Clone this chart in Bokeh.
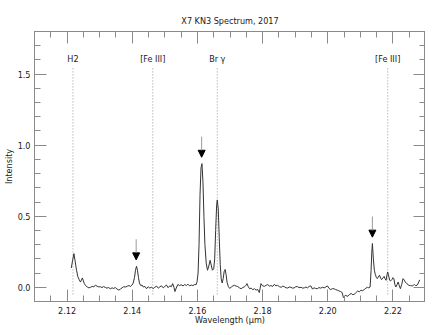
from bokeh.plotting import figure
from bokeh.layouts import column
from bokeh.models import (ColumnDataSource, LinearAxis, SingleIntervalTicker,
                          PrintfTickFormatter, CustomJSTickFormatter, Arrow,
                          NormalHead, Range1d, Spacer)
from bokeh.core.properties import value
from bokeh.embed import file_html
from bokeh.resources import INLINE

# ---- data ----
wavelength = [
    2.1213, 2.1217, 2.1221, 2.1225, 2.1229, 2.1233, 2.1237, 2.1241, 2.1244, 2.1247,
    2.1250, 2.1253, 2.1257, 2.1262, 2.1267, 2.1272, 2.1277, 2.1282, 2.1287, 2.1292,
    2.1297, 2.1302, 2.1307, 2.1312, 2.1317, 2.1322, 2.1327, 2.1333, 2.1338, 2.1343,
    2.1348, 2.1353, 2.1359, 2.1364, 2.1369, 2.1374, 2.1380, 2.1385, 2.1390, 2.1395,
    2.1399, 2.1403, 2.1407, 2.1410, 2.1413, 2.1416, 2.1419, 2.1422, 2.1426, 2.1430,
    2.1434, 2.1439, 2.1444, 2.1449, 2.1454, 2.1459, 2.1464, 2.1469, 2.1475, 2.1480,
    2.1485, 2.1490, 2.1495, 2.1500, 2.1505, 2.1510, 2.1515, 2.1520, 2.1524, 2.1528,
    2.1531, 2.1535, 2.1540, 2.1545, 2.1550, 2.1556, 2.1561, 2.1566, 2.1571, 2.1576,
    2.1581, 2.1586, 2.1592, 2.1596, 2.1599, 2.1602, 2.1605, 2.1608, 2.1611, 2.1614,
    2.1617, 2.1620, 2.1623, 2.1627, 2.1631, 2.1635, 2.1639, 2.1643, 2.1646, 2.1650,
    2.1653, 2.1656, 2.1659, 2.1661, 2.1664, 2.1667, 2.1670, 2.1673, 2.1676, 2.1679,
    2.1682, 2.1685, 2.1688, 2.1691, 2.1695, 2.1699, 2.1704, 2.1709, 2.1714, 2.1719,
    2.1724, 2.1729, 2.1734, 2.1739, 2.1745, 2.1749, 2.1752, 2.1756, 2.1760, 2.1765,
    2.1770, 2.1775, 2.1780, 2.1785, 2.1790, 2.1795, 2.1800, 2.1806, 2.1811, 2.1816,
    2.1821, 2.1826, 2.1831, 2.1836, 2.1841, 2.1846, 2.1852, 2.1857, 2.1862, 2.1867,
    2.1872, 2.1877, 2.1882, 2.1887, 2.1892, 2.1897, 2.1902, 2.1907, 2.1912, 2.1918,
    2.1923, 2.1928, 2.1933, 2.1938, 2.1943, 2.1948, 2.1953, 2.1958, 2.1963, 2.1968,
    2.1973, 2.1978, 2.1984, 2.1989, 2.1994, 2.1999, 2.2004, 2.2009, 2.2014, 2.2019,
    2.2024, 2.2029, 2.2034, 2.2039, 2.2044, 2.2048, 2.2052, 2.2055, 2.2059, 2.2062,
    2.2067, 2.2072, 2.2077, 2.2082, 2.2087, 2.2092, 2.2097, 2.2102, 2.2107, 2.2112,
    2.2117, 2.2122, 2.2126, 2.2130, 2.2133, 2.2135, 2.2137, 2.2140, 2.2143, 2.2146,
    2.2149, 2.2152, 2.2155, 2.2159, 2.2162, 2.2165, 2.2169, 2.2173, 2.2176, 2.2179,
    2.2182, 2.2184, 2.2187, 2.2190, 2.2193, 2.2197, 2.2200, 2.2203, 2.2206, 2.2209,
    2.2213, 2.2216, 2.2219, 2.2223, 2.2227, 2.2231, 2.2235, 2.2238, 2.2243, 2.2249,
    2.2254, 2.2259, 2.2263, 2.2266, 2.2270, 2.2274, 2.2278, 2.2282,
]
intensity = [
    0.136, 0.190, 0.237, 0.180, 0.120, 0.075, 0.055, 0.037, 0.050, 0.066,
    0.045, 0.026, 0.012, 0.002, -0.004, 0.000, 0.006, 0.004, 0.014, 0.008,
    0.003, 0.004, -0.002, 0.005, 0.000, -0.006, -0.002, -0.010, -0.004, -0.008,
    -0.002, -0.012, -0.020, -0.012, -0.003, 0.004, 0.002, 0.008, 0.012, 0.006,
    0.015, 0.030, 0.070, 0.120, 0.148, 0.120, 0.070, 0.030, 0.012, 0.016,
    0.002, 0.006, -0.010, 0.004, -0.006, 0.002, -0.010, 0.000, 0.008, -0.006,
    0.004, 0.010, -0.004, 0.006, 0.016, -0.003, 0.010, 0.004, 0.026, 0.000,
    -0.030, -0.005, 0.020, 0.012, 0.018, 0.010, 0.020, 0.012, 0.022, 0.010,
    0.016, 0.012, 0.020, 0.018, 0.040, 0.100, 0.300, 0.650, 0.840, 0.870,
    0.740, 0.500, 0.300, 0.170, 0.120, 0.150, 0.190, 0.150, 0.120, 0.130,
    0.200, 0.400, 0.580, 0.615, 0.550, 0.350, 0.160, 0.060, 0.030, 0.060,
    0.110, 0.125, 0.090, 0.035, 0.005, -0.008, 0.002, 0.010, 0.014, 0.008,
    0.005, -0.004, -0.010, -0.002, 0.004, 0.014, 0.026, 0.005, -0.010, -0.006,
    -0.017, -0.010, -0.020, -0.015, -0.037, 0.026, 0.010, 0.007, 0.014, 0.019,
    0.008, 0.012, 0.006, 0.021, 0.010, 0.014, 0.004, 0.000, 0.008, 0.004,
    -0.004, -0.005, 0.002, 0.000, -0.006, -0.004, 0.004, 0.005, -0.002, 0.000,
    -0.006, -0.004, 0.002, -0.004, 0.006, 0.010, -0.012, -0.004, -0.008, -0.010,
    -0.002, -0.006, 0.000, -0.004, 0.002, 0.010, -0.008, -0.016, -0.010, -0.010,
    -0.016, -0.020, -0.025, -0.030, -0.036, -0.072, -0.064, -0.056, -0.062, -0.063,
    -0.050, -0.044, -0.052, -0.049, -0.036, -0.026, -0.032, -0.020, -0.024, -0.016,
    -0.006, 0.000, -0.004, 0.002, 0.120, 0.240, 0.308, 0.200, 0.120, 0.090,
    0.070, 0.061, 0.072, 0.085, 0.066, 0.054, 0.065, 0.077, 0.060, 0.049,
    0.090, 0.108, 0.080, 0.049, 0.045, 0.055, 0.068, 0.060, 0.020, 0.002,
    0.020, 0.037, 0.015, -0.010, 0.020, 0.061, 0.050, 0.037, 0.025, 0.014,
    0.012, 0.009, 0.015, 0.019, 0.012, 0.014, 0.030, 0.052,
]

line_wl = [2.1218, 2.1463, 2.1661, 2.2184]
line_names = ["H2", "[Fe III]", "Br γ", "[Fe III]"]

arrow_wl = [2.1412, 2.1613, 2.2137]
arrow_peak = [0.148, 0.870, 0.308]

FONT = "DejaVu Sans Condensed, Liberation Sans, sans-serif"
GRAY = "#8a8a8a"
TXT = "#1a1a1a"

p = figure(width=425, height=319, output_backend="svg", toolbar_location=None,
           x_range=Range1d(2.11, 2.23), y_range=Range1d(-0.1, 1.8),
           x_axis_location=None, y_axis_location=None,
           min_border_left=0, min_border_right=0, min_border_top=0,
           min_border_bottom=0)
p.grid.visible = False
p.outline_line_color = GRAY
p.background_fill_color = "white"
p.border_fill_color = "white"

p.title.text = "X7 KN3 Spectrum, 2017"
p.title.align = "center"
p.title.text_font = FONT
p.title.text_font_size = "9px"
p.title.text_font_style = "normal"
p.title.text_color = TXT
p.title.standoff = 11
p.title.offset = 0


def style_axis(ax, show_labels):
    ax.axis_line_color = GRAY
    ax.major_tick_line_color = GRAY
    ax.minor_tick_line_color = GRAY
    ax.major_tick_in = 12
    ax.major_tick_out = 0
    ax.minor_tick_in = 6
    ax.minor_tick_out = 0
    ax.major_label_text_font = FONT
    ax.major_label_text_color = TXT
    ax.axis_label_text_font = FONT
    ax.axis_label_text_color = TXT
    ax.axis_label_text_font_style = "normal"
    ax.major_label_text_font_size = "9px"
    ax.axis_label_text_font_size = "9px"
    if not show_labels:
        ax.formatter = CustomJSTickFormatter(code="return '';")
        ax.major_label_text_font_size = "1px"
        ax.major_label_standoff = 0


xt = SingleIntervalTicker(interval=0.02, num_minor_ticks=4)
yt = SingleIntervalTicker(interval=0.5, num_minor_ticks=5)

xb = LinearAxis(ticker=xt, formatter=PrintfTickFormatter(format="%.2f"),
                axis_label="Wavelength (μm)")
style_axis(xb, True)
xb.major_label_standoff = 5
xb.axis_label_standoff = -2
p.add_layout(xb, "below")

xa = LinearAxis(ticker=xt)
style_axis(xa, False)
p.add_layout(xa, "above")

yl = LinearAxis(ticker=yt, formatter=PrintfTickFormatter(format="%.1f"),
                axis_label="Intensity")
style_axis(yl, True)
yl.major_label_standoff = 4
yl.axis_label_standoff = 1
p.add_layout(yl, "left")

yr = LinearAxis(ticker=yt)
style_axis(yr, False)
p.add_layout(yr, "right")

# dotted line markers
lines_src = ColumnDataSource(dict(x=line_wl, name=line_names,
                                  y0=[-0.05] * len(line_wl), y1=[1.55] * len(line_wl),
                                  ty=[1.61] * len(line_wl)))
p.segment(x0="x", y0="y0", x1="x", y1="y1", source=lines_src,
          line_color="#9a9a9a", line_width=1, line_dash="1 2")
p.text(x="x", y="ty", text="name", source=lines_src,
       text_font=value(FONT), text_font_size="9px", text_color=TXT,
       text_align="center", text_baseline="middle")

# spectrum
p.line(wavelength, intensity, line_color="#333333", line_width=1)

# arrows
arr_src = ColumnDataSource(dict(x=arrow_wl,
                                ys=[v + 0.19 for v in arrow_peak],
                                ye=[v + 0.045 for v in arrow_peak]))
p.add_layout(Arrow(end=NormalHead(size=7, fill_color="black", line_color="black"),
                   x_start="x", y_start="ys", x_end="x", y_end="ye",
                   source=arr_src, line_color="#999999", line_width=1))

page = column(Spacer(width=425, height=8), p, spacing=0)
open("out.html", "w").write(file_html(page, INLINE))
